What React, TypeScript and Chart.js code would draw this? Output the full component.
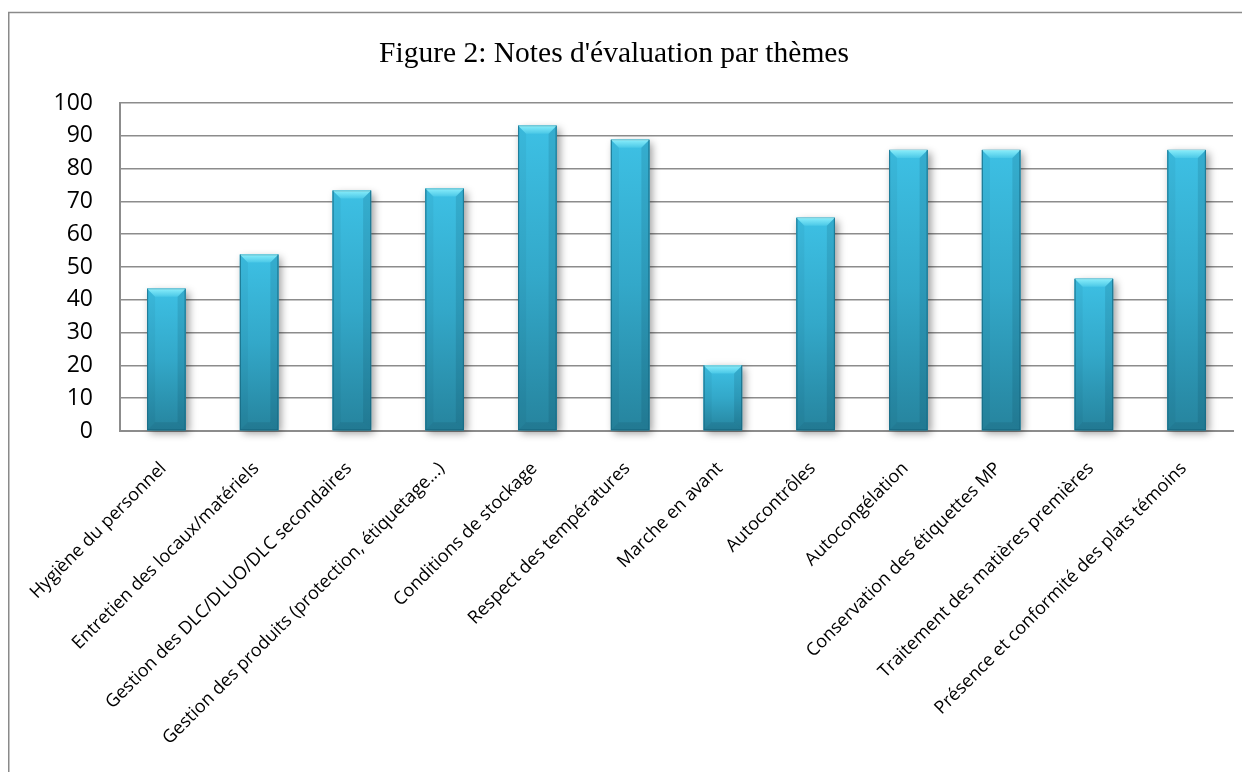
import React, { useEffect, useRef } from "react";
import { Chart, registerables } from "chart.js";

Chart.register(...registerables);

const TITLE = "Figure 2: Notes d'évaluation par thèmes";

const categories: string[] = [
  "Hygiène du personnel",
  "Entretien des locaux/matériels",
  "Gestion des DLC/DLUO/DLC secondaires",
  "Gestion des produits (protection, étiquetage...)",
  "Conditions de stockage",
  "Respect des températures",
  "Marche en avant",
  "Autocontrôles",
  "Autocongélation",
  "Conservation des étiquettes MP",
  "Traitement des matières premières",
  "Présence et conformité des plats témoins",
];

const scores: number[] = [43.4, 53.8, 73.3, 73.9, 93.1, 88.8, 20, 65, 85.7, 85.7, 46.4, 85.7];

const yTicks: number[] = [0, 10, 20, 30, 40, 50, 60, 70, 80, 90, 100];

const GRID = "#8c8c8c";

const framePlugin = {
  id: "frame",
  beforeDraw(chart: any) {
    const ctx = chart.ctx;
    ctx.save();
    ctx.fillStyle = "#ffffff";
    ctx.fillRect(0, 0, chart.width, chart.height);
    ctx.strokeStyle = "#8a8a8a";
    ctx.lineWidth = 1.5;
    ctx.beginPath();
    ctx.moveTo(0.75, chart.height);
    ctx.lineTo(0.75, 4.5);
    ctx.lineTo(chart.width, 4.5);
    ctx.stroke();
    ctx.fillStyle = "#000000";
    ctx.font = '29.5px "Liberation Serif", "Times New Roman", serif';
    ctx.textAlign = "center";
    ctx.textBaseline = "middle";
    ctx.fillText(TITLE, 606, 46);
    ctx.restore();
  },
};

function barGeom(el: any) {
  const p = el.getProps(["x", "y", "base", "width"], true);
  const l = p.x - p.width / 2;
  const r = p.x + p.width / 2;
  return { l, r, t: Math.min(p.y, p.base), b: Math.max(p.y, p.base), w: p.width };
}

const bevelPlugin = {
  id: "bevel",
  beforeDatasetsDraw(chart: any) {
    const ctx = chart.ctx;
    const meta = chart.getDatasetMeta(0);
    ctx.save();
    meta.data.forEach((el: any) => {
      const g = barGeom(el);
      if (![g.l, g.t, g.b, g.w].every(Number.isFinite)) return;
      ctx.shadowColor = "rgba(0,0,0,0.4)";
      ctx.shadowBlur = 8;
      ctx.shadowOffsetX = 3;
      ctx.shadowOffsetY = 3;
      ctx.fillStyle = "#2a8eaa";
      ctx.fillRect(g.l, g.t, g.w, g.b - g.t);
    });
    ctx.restore();
  },
  afterDatasetsDraw(chart: any) {
    const ctx = chart.ctx;
    const meta = chart.getDatasetMeta(0);
    ctx.save();
    meta.data.forEach((el: any) => {
      const { l, r, t, b, w } = barGeom(el);
      if (![l, r, t, b, w].every(Number.isFinite)) return;
      const bg = ctx.createLinearGradient(0, t, 0, b);
      bg.addColorStop(0, "#3dc0e4");
      bg.addColorStop(0.5, "#33a8c9");
      bg.addColorStop(1, "#26849e");
      ctx.fillStyle = bg;
      ctx.fillRect(l, t, w, b - t);
      const k = Math.min(8, w / 4, (b - t) / 3);
      const tg = ctx.createLinearGradient(0, t, 0, t + k);
      tg.addColorStop(0, "#8aeefb");
      tg.addColorStop(1, "#4ac8e7");
      ctx.fillStyle = tg;
      ctx.beginPath();
      ctx.moveTo(l, t);
      ctx.lineTo(r, t);
      ctx.lineTo(r - k, t + k);
      ctx.lineTo(l + k, t + k);
      ctx.closePath();
      ctx.fill();
      ctx.fillStyle = "rgba(0,40,60,0.12)";
      ctx.beginPath();
      ctx.moveTo(r, t);
      ctx.lineTo(r - k, t + k);
      ctx.lineTo(r - k, b - k);
      ctx.lineTo(r, b);
      ctx.closePath();
      ctx.fill();
      ctx.fillStyle = "rgba(0,40,60,0.05)";
      ctx.beginPath();
      ctx.moveTo(l, t);
      ctx.lineTo(l + k, t + k);
      ctx.lineTo(l + k, b - k);
      ctx.lineTo(l, b);
      ctx.closePath();
      ctx.fill();
      ctx.fillStyle = "rgba(0,30,45,0.10)";
      ctx.beginPath();
      ctx.moveTo(l, b);
      ctx.lineTo(l + k, b - k);
      ctx.lineTo(r - k, b - k);
      ctx.lineTo(r, b);
      ctx.closePath();
      ctx.fill();
      ctx.strokeStyle = "rgba(20,100,125,0.75)";
      ctx.lineWidth = 1;
      ctx.strokeRect(l + 0.5, t + 0.5, w - 1, b - t - 1);
      ctx.strokeStyle = "#9af2fc";
      ctx.beginPath();
      ctx.moveTo(l + 1, t + 0.5);
      ctx.lineTo(r - 1, t + 0.5);
      ctx.stroke();
    });
    ctx.restore();
  },
};

export default function App() {
  const ref = useRef<HTMLCanvasElement | null>(null);

  useEffect(() => {
    if (!ref.current) return;
    const chart = new Chart(ref.current, {
      type: "bar",
      data: {
        labels: categories,
        datasets: [
          {
            data: scores,
            barPercentage: 0.415,
            categoryPercentage: 1,
            borderWidth: 0,
            backgroundColor: "#33a8c9",
          },
        ],
      },
      options: {
        responsive: false,
        animation: false,
        devicePixelRatio: 1,
        layout: { padding: { top: 95, right: 9, left: 0, bottom: 0 } },
        plugins: {
          legend: { display: false },
          title: { display: false },
          tooltip: { enabled: false },
        },
        scales: {
          x: {
            grid: { display: false, drawTicks: false },
            border: { display: true, color: GRID, width: 2 },
            ticks: {
              autoSkip: false,
              minRotation: 45,
              maxRotation: 45,
              padding: 27,
              labelOffset: -3,
              color: "#000000",
              font: { family: '"Open Sans", sans-serif', size: 18 },
            },
            afterFit: (s: any) => {
              s.height = 341;
              s.paddingLeft = 0;
              s.paddingRight = 0;
            },
          },
          y: {
            min: 0,
            max: 100,
            afterBuildTicks: (s: any) => {
              s.ticks = yTicks.map((v) => ({ value: v }));
            },
            grid: { color: GRID, lineWidth: 1.5, drawTicks: false },
            border: { display: true, color: GRID, width: 2 },
            ticks: {
              padding: 27,
              color: "#000000",
              font: { family: '"Open Sans", sans-serif', size: 23 },
            },
            afterFit: (s: any) => {
              s.width = 112;
            },
          },
        },
      },
      plugins: [framePlugin, bevelPlugin],
    });
    return () => chart.destroy();
  }, []);

  return (
    <div style={{ width: 1234, height: 764 }}>
      <canvas ref={ref} width={1234} height={764} style={{ display: "block" }} />
    </div>
  );
}
